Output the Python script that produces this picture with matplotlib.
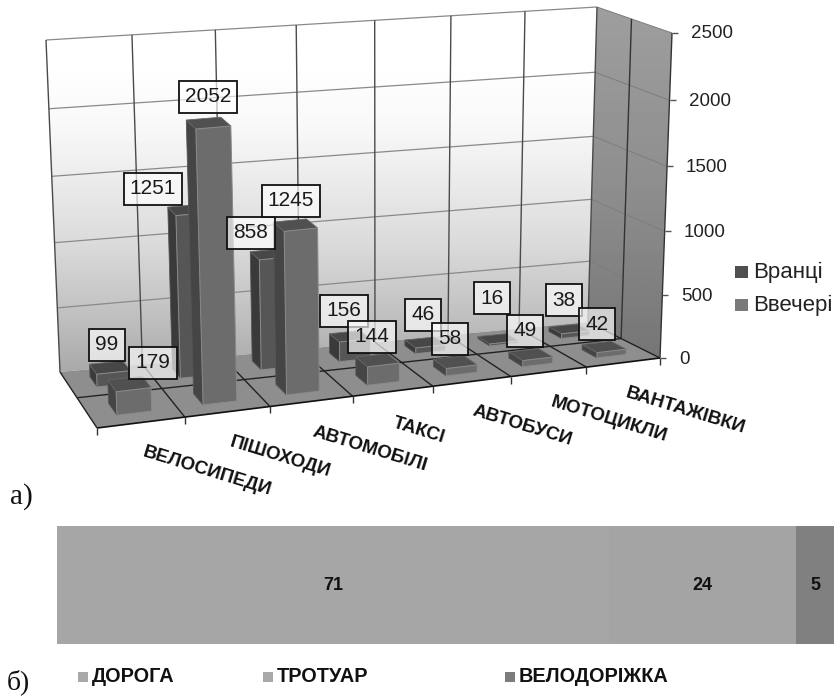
import matplotlib

matplotlib.use("Agg")
import matplotlib.pyplot as plt
import numpy as np
from matplotlib.patches import Polygon, Rectangle

plt.rcParams["font.family"] = ["Liberation Sans", "DejaVu Sans"]

categories = ["ВЕЛОСИПЕДИ", "ПІШОХОДИ", "АВТОМОБІЛІ", "ТАКСІ", "АВТОБУСИ", "МОТОЦИКЛИ", "ВАНТАЖІВКИ"]
morning = [99, 1251, 858, 156, 46, 16, 38]
evening = [179, 2052, 1245, 144, 58, 49, 42]
value_ticks = [0, 500, 1000, 1500, 2000, 2500]

surface_names = ["ДОРОГА", "ТРОТУАР", "ВЕЛОДОРІЖКА"]
surface_shares = [71, 24, 5]

W, H = 834, 697
N = len(categories)
VMAX = value_ticks[-1]

# corners of the 3d box on the picture, in pixels
FLB, FRB, BLB, BRB = map(np.array, [(97, 428), (660, 358), (60, 372), (588, 322)])
FLT, FRT, BLT, BRT = map(np.array, [(83, 83), (672, 33), (46, 40), (597, 7)])

# where the labels were dragged to in the original
MORNING_LABELS = [(107, 345), (153, 189), (251, 233), (344, 311), (423, 315), (492, 298), (564, 300)]
EVENING_LABELS = [(153, 363), (208, 97), (291, 201), (372, 337), (450, 339), (525, 331), (597, 324)]
CAT_LABELS = [(207, 471), (280, 457), (370, 449), (419, 431), (522, 426), (609, 420), (685, 411)]


def warp(g, c):
    return g * (1 + c) / (1 + c * g)


def project(u, v, w):
    # u: category 0..N, v: depth 0 (front)..2 (back), w: value
    s = warp(u / N, 0.109)
    d = warp(v / 2, 0.174)
    f = w / VMAX
    t = f / (1 + 0.045 * (1 - f))
    low = (1 - d) * ((1 - s) * FLB + s * FRB) + d * ((1 - s) * BLB + s * BRB)
    top = (1 - d) * ((1 - s) * FLT + s * FRT) + d * ((1 - s) * BLT + s * BRT)
    return low + t * (top - low)


def gradient_wall(ax, corners, ys, grays):
    poly = Polygon(corners, closed=True, fc="none", ec="none", transform=ax.transData)
    ax.add_patch(poly)
    rows = np.arange(0, H)
    grad = np.interp(rows, ys, grays).reshape(-1, 1)
    im = ax.imshow(grad, cmap="gray", vmin=0, vmax=1, extent=(0, W, H, 0), aspect="auto", zorder=0)
    im.set_clip_path(poly)


def draw_bar(ax, i, depth, value, front, side, top):
    u0, u1 = i + 0.3, i + 0.7
    v0, v1 = depth + 0.3, depth + 0.7
    side_poly = [project(u0, v0, 0), project(u0, v1, 0), project(u0, v1, value), project(u0, v0, value)]
    top_poly = [project(u0, v0, value), project(u0, v1, value), project(u1, v1, value), project(u1, v0, value)]
    front_poly = [project(u0, v0, 0), project(u1, v0, 0), project(u1, v0, value), project(u0, v0, value)]
    ax.add_patch(Polygon(side_poly, fc=side, ec="#555555", lw=0.6, zorder=3))
    ax.add_patch(Polygon(top_poly, fc=top, ec="#666666", lw=0.6, zorder=3))
    ax.add_patch(Polygon(front_poly, fc=front, ec="#8a8a8a", lw=0.7, zorder=3))


def line3(ax, a, b, **kw):
    xs, ys = zip(a, b)
    ax.plot(xs, ys, solid_capstyle="butt", **kw)


fig = plt.figure(figsize=(W / 100, H / 100), dpi=100)
ax = fig.add_axes([0, 0, 1, 1])

# walls and floor
gradient_wall(ax, [BLT, BRT, BRB, BLB], [60, 130, 240, 310, 372], [1.0, 0.97, 0.86, 0.76, 0.66])
gradient_wall(ax, [BRT, FRT, FRB, BRB], [7, 200, 358], [0.62, 0.55, 0.46])
ax.add_patch(Polygon([BLB, BRB, FRB, FLB], fc="#8e8e8e", ec="none", zorder=1))

# grid on the back and side walls
for val in value_ticks[1:]:
    line3(ax, project(0, 2, val), project(N, 2, val), color="#8a8a8a", lw=0.9, zorder=2)
    line3(ax, project(N, 2, val), project(N, 0, val), color="#7d7d7d", lw=0.7, zorder=2)
for i in range(N + 1):
    line3(ax, project(i, 2, 0), project(i, 2, VMAX), color="#4a4a4a", lw=1.0, zorder=2)
line3(ax, project(N, 1, 0), project(N, 1, VMAX), color="#333333", lw=1.0, zorder=2)

# grid on the floor
for i in range(N + 1):
    line3(ax, project(i, 2, 0), project(i, 0, 0), color="#222222", lw=1.0, zorder=2)
line3(ax, project(0, 1, 0), project(N, 1, 0), color="#222222", lw=1.0, zorder=2)
line3(ax, project(0, 0, 0), project(N, 0, 0), color="#111111", lw=1.2, zorder=2)
line3(ax, project(N, 0, 0), project(N, 0, VMAX), color="#333333", lw=1.0, zorder=2)

# ticks and value labels
for i in range(N + 1):
    p = project(i, 0, 0)
    line3(ax, p, p + (0, 7), color="#333333", lw=1.0, zorder=2)
for val in value_ticks:
    p = project(N, 0, val)
    line3(ax, p, p + (6, 0), color="#555555", lw=1.0, zorder=2)
    ax.text(p[0] + 19, p[1] + 1, str(val), fontsize=13.5, color="#222222", ha="left", va="center")

# bars, back row first
for i in range(N - 1, -1, -1):
    draw_bar(ax, i, 1, morning[i], "#565656", "#3a3a3a", "#474747")
for i in range(N - 1, -1, -1):
    draw_bar(ax, i, 0, evening[i], "#6c6c6c", "#454545", "#505050")

# value boxes
for vals, spots in ((morning, MORNING_LABELS), (evening, EVENING_LABELS)):
    for val, (x, y) in zip(vals, spots):
        ax.text(x, y, str(val), fontsize=15, color="#1a1a1a", ha="center", va="center", zorder=5,
                bbox=dict(boxstyle="square,pad=0.3", fc=(1, 1, 1, 0.65), ec="#111111", lw=1.3))

for name, (x, y) in zip(categories, CAT_LABELS):
    ax.text(x, y, name, fontsize=13.5, fontweight="bold", color="#111111", rotation=-17,
            rotation_mode="anchor", ha="center", va="center")

# legend of the upper chart
for y, name, color in ((272, "Вранці", "#4f4f4f"), (305, "Ввечері", "#7a7a7a")):
    ax.add_patch(Rectangle((735, y - 6), 13, 12, fc=color, ec="none"))
    ax.text(753, y, name, fontsize=16, color="#222222", ha="left", va="center")

ax.text(21, 497, "а)", family="Liberation Serif", fontsize=21, color="#111111", ha="center", va="center")
ax.text(18, 682, "б)", family="Liberation Serif", fontsize=20, color="#111111", ha="center", va="center")

# legend of the lower chart
swatches = ["#a8a8a8", "#a8a8a8", "#7c7c7c"]
for x, tx, name, color in zip((78, 263, 505), (92, 277, 519), surface_names, swatches):
    ax.add_patch(Rectangle((x, 672), 10, 10, fc=color, ec="none"))
    ax.text(tx, 677, name, fontsize=14.3, fontweight="bold", color="#111111", ha="left", va="center")

ax.set_xlim(0, W)
ax.set_ylim(H, 0)
ax.axis("off")

# lower stacked bar
bx = fig.add_axes([57 / W, 1 - 644 / H, 778 / W, 118 / H])
left = 0
for share, color in zip(surface_shares, ["#a6a6a6", "#a4a4a4", "#808080"]):
    bx.barh(0, share, left=left, height=1, color=color)
    bx.text(left + share / 2, 0, str(share), fontsize=13, fontweight="bold", color="#111111", ha="center", va="center")
    left += share
bx.set_xlim(0, 100)
bx.set_ylim(-0.5, 0.5)
bx.axis("off")

fig.savefig("out.png", dpi=100)
